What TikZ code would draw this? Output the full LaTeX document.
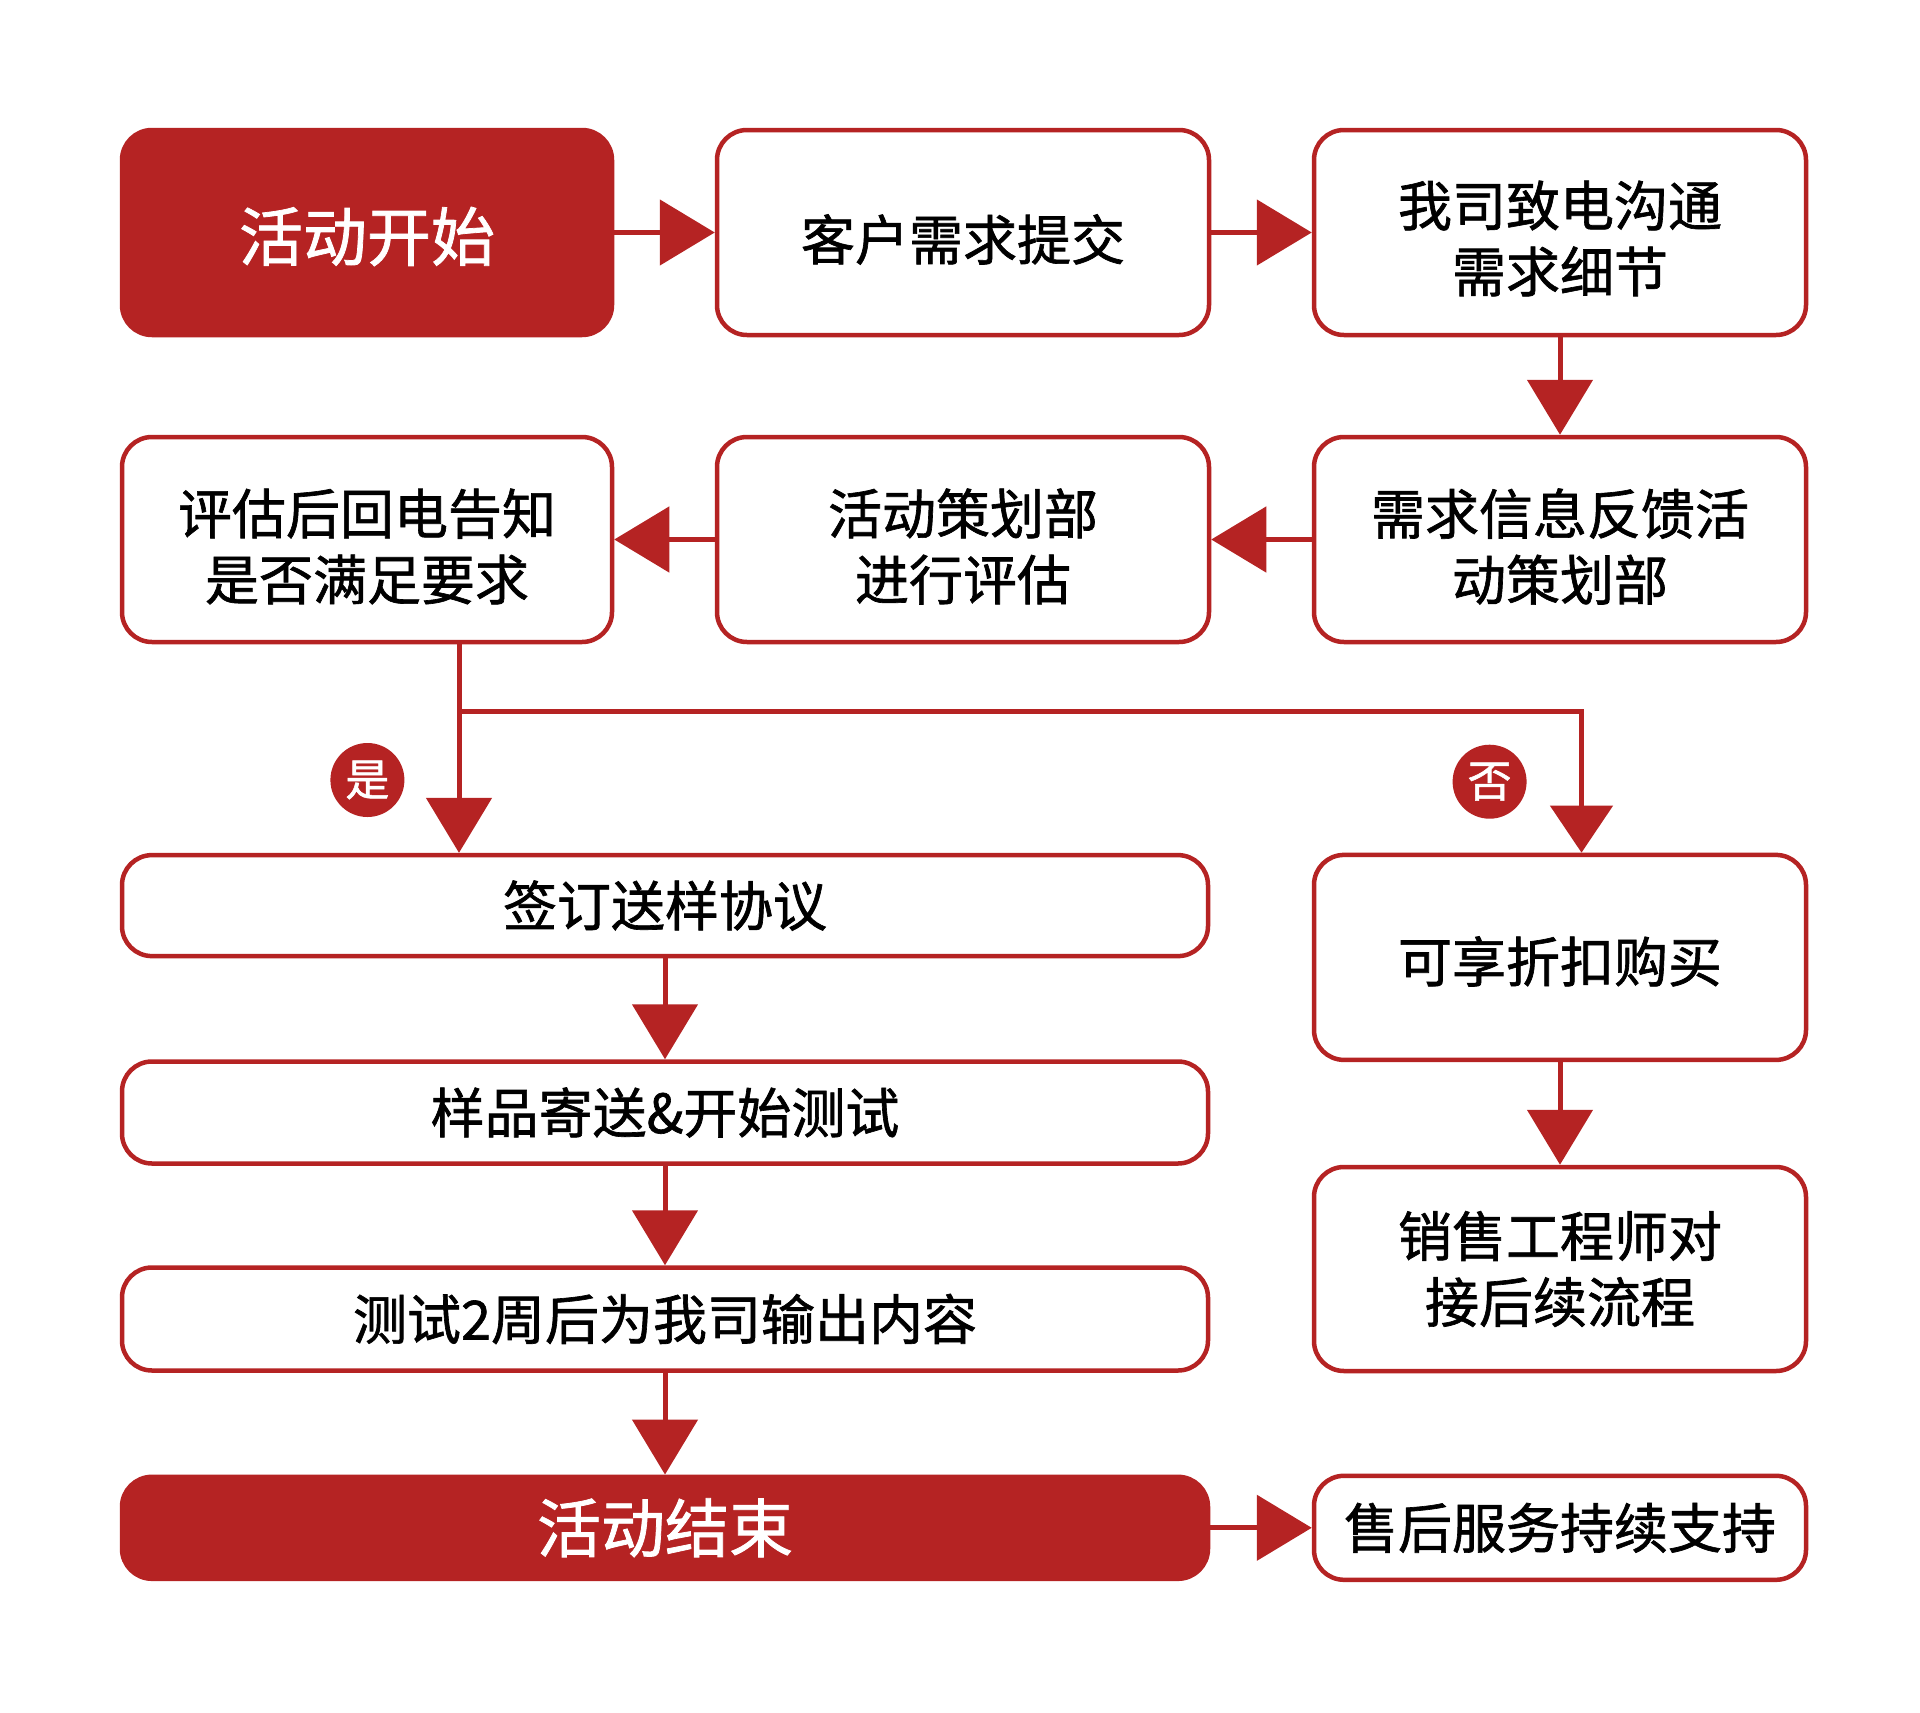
\documentclass[tikz,border=0pt]{standalone}
\usepackage{fontspec}
\setmainfont{Noto Sans CJK SC}[FakeBold=1.2]
\usetikzlibrary{arrows.meta,shapes.geometric}
\definecolor{myred}{RGB}{181,35,35}
\tikzset{
  box/.style={draw=myred, line width=4.5pt, rounded corners=30pt, fill=white, align=center,
    inner sep=0pt, font=\fontsize{54}{66}\selectfont},
  fbox/.style={box, fill=myred, text=white, font=\fontsize{64}{76}\selectfont},
  tx/.style={align=center, inner sep=0pt, font=\fontsize{54}{66}\selectfont},
  ftx/.style={tx, text=white, font=\fontsize{64}{76}\selectfont},
  arr/.style={draw=myred, line width=5pt, -{Triangle[length=55pt,width=65pt]}},
  arrs/.style={draw=myred, line width=5pt, -{Triangle[length=47pt,width=62pt]}},
  tag/.style={circle, fill=myred, text=white, minimum size=74pt, inner sep=0pt,
    font=\fontsize{44}{44}\selectfont}
}
\begin{document}
\begin{tikzpicture}[x=1pt,y=-1pt]
\useasboundingbox (0,0) rectangle (1920,1713);
% row 1
\node[fbox, minimum width=490pt, minimum height=205pt] (start) at (367,232.5) {};
\node[ftx] (startT) at ([yshift=-4pt]start.center) {活动开始};
\node[box, minimum width=492pt, minimum height=205pt] (kh) at (963,232.5) {};
\node[tx] (khT) at ([yshift=-7pt]kh.center) {客户需求提交};
\node[box, minimum width=492pt, minimum height=205pt] (wo) at (1560,232.5) {};
\node[tx] (woT) at ([yshift=-6pt]wo.center) {我司致电沟通\\需求细节};
% row 2
\node[box, minimum width=490pt, minimum height=205pt] (pg) at (367,539.5) {};
\node[tx] (pgT) at ([yshift=-7pt]pg.center) {评估后回电告知\\是否满足要求};
\node[box, minimum width=492pt, minimum height=205pt] (ch) at (963,539.5) {};
\node[tx] (chT) at ([yshift=-7pt]ch.center) {活动策划部\\进行评估};
\node[box, minimum width=492pt, minimum height=205pt] (xq) at (1560,539.5) {};
\node[tx] (xqT) at ([yshift=-7pt]xq.center) {需求信息反馈活\\动策划部};
% left column
\node[box, minimum width=1086pt, minimum height=101pt] (qd) at (665,905.6) {签订送样协议};
\node[box, minimum width=1086pt, minimum height=102pt] (yp) at (665,1112.5) {样品寄送\&开始测试};
\node[box, minimum width=1086pt, minimum height=103pt] (cs) at (665,1319) {测试2周后为我司输出内容};
\node[fbox, minimum width=1086pt, minimum height=102pt] (end) at (665,1527.8) {活动结束};
% right column
\node[box, minimum width=492pt, minimum height=205pt] (kx) at (1560,957.4) {};
\node[tx] (kxT) at ([yshift=-4pt]kx.center) {可享折扣购买};
\node[box, minimum width=492pt, minimum height=204pt] (xs) at (1560,1269) {销售工程师对\\接后续流程};
\node[box, minimum width=492pt, minimum height=104pt] (sh) at (1560,1527.8) {售后服务持续支持};
% connectors
\draw[arr] (start) -- (kh);
\draw[arr] (kh) -- (wo);
\draw[arr] (wo) -- (xq);
\draw[arr] (xq) -- (ch);
\draw[arr] (ch) -- (pg);
\coordinate (br) at (459,711);
\coordinate (bn) at (1581.5,711);
\draw[arr] (pg.south -| br) -- (qd.north -| br);
\draw[arrs] (br) -- (bn) -- (kx.north -| bn);
\draw[arr] (qd) -- (yp);
\draw[arr] (yp) -- (cs);
\draw[arr] (cs) -- (end);
\draw[arr] (kx) -- (xs);
\draw[arr] (end) -- (sh);
% tags
\node[tag] (yes) at (367.4,780) {是};
\node[tag] (no) at (1489.6,781.7) {否};
\end{tikzpicture}
\end{document}
